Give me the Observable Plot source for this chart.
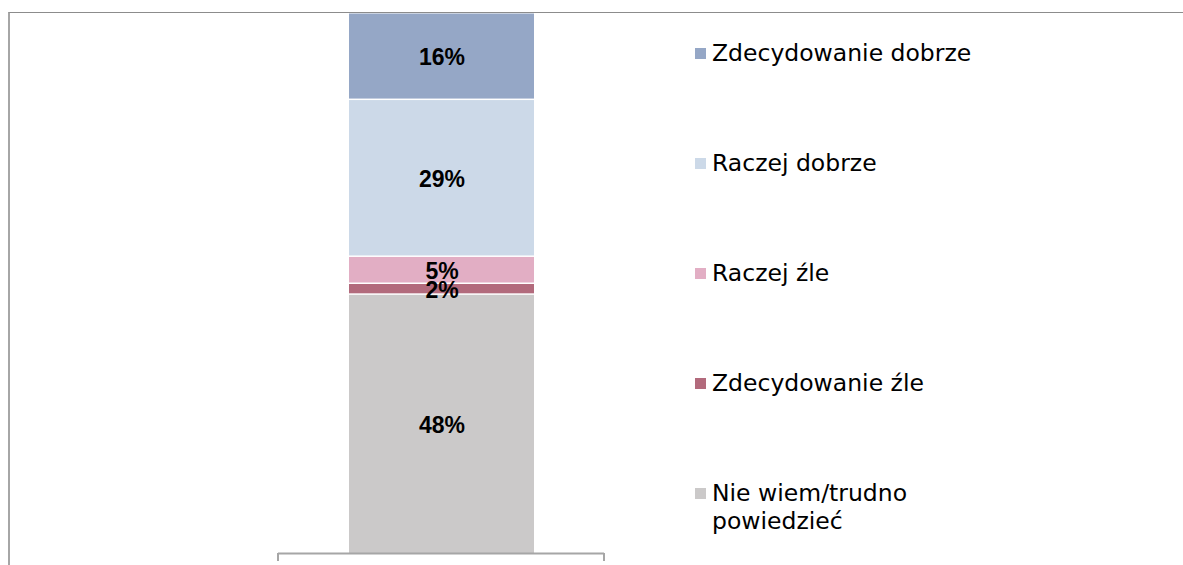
<!DOCTYPE html>
<html>
<head>
<meta charset="utf-8">
<script src="https://cdn.jsdelivr.net/npm/d3@7"></script>
<script src="https://cdn.jsdelivr.net/npm/@observablehq/plot@0.6"></script>
<style>
  html, body { margin: 0; padding: 0; background: #fff; overflow: hidden; }
  #wrap { position: relative; width: 1183px; height: 565px; }
  #border { position: absolute; left: 8px; top: 12px; width: 2000px; height: 2000px;
            border-top: 1px solid #8c8c8c; border-left: 2px solid #a6a6a6; pointer-events: none; }
  #legend { position: absolute; left: 695px; top: 39px; font-family: "DejaVu Sans", sans-serif;
            font-size: 23.5px; line-height: 28px; color: #000; }
  .item { display: flex; align-items: flex-start; height: 110px; }
  .sw { width: 11px; height: 11px; margin-top: 8.5px; margin-right: 6px; flex: none; }
  .lab { max-width: 280px; }
</style>
</head>
<body>
<div id="wrap"></div>
<script>
// Data (stacking order: bottom to top)
const category = [""];
const answers = ["Nie wiem/trudno powiedzieć", "Zdecydowanie źle", "Raczej źle", "Raczej dobrze", "Zdecydowanie dobrze"];
const values = [48, 2, 5, 29, 16];
const colors = ["#cbc9c9", "#b26a7c", "#e2aec4", "#ccd9e8", "#95a7c6"];

const data = answers.map((a, i) => ({cat: category[0], answer: a, value: values[i]}));

const endTicks = (index, scales, vals, dims) => {
  const g = d3.create("svg:g").attr("stroke", "#a6a6a6").attr("stroke-width", 2);
  const y0 = dims.height - dims.marginBottom;
  [dims.marginLeft, dims.width - dims.marginRight].forEach(x => {
    g.append("line").attr("x1", x).attr("x2", x).attr("y1", y0).attr("y2", y0 + 8);
  });
  return g.node();
};

const chart = Plot.plot({
  width: 1183,
  height: 565,
  marginTop: 12,
  marginBottom: 12,
  marginLeft: 278,
  marginRight: 579,
  x: {domain: category, padding: 0.276, axis: null},
  y: {domain: [0, 100], axis: null},
  color: {domain: answers, range: colors},
  style: {background: "transparent"},
  marks: [
    Plot.barY(data, {x: "cat", y: "value", fill: "answer", order: null, insetTop: 1.5}),
    Plot.text(data, Plot.stackY({x: "cat", y: "value", z: "answer", order: null,
      text: d => d.value + "%", fill: "#000", fontWeight: "bold", fontSize: 23,
      fontFamily: "Liberation Sans, Arial, sans-serif", dy: 2})),
    Plot.ruleY([0], {stroke: "#a6a6a6", strokeWidth: 2}),
    endTicks
  ]
});

const wrap = document.getElementById("wrap");
wrap.appendChild(chart);

const border = document.createElement("div");
border.id = "border";
wrap.appendChild(border);

const legend = document.createElement("div");
legend.id = "legend";
answers.map((a, i) => ({a, c: colors[i]})).reverse().forEach(({a, c}) => {
  const item = document.createElement("div");
  item.className = "item";
  const sw = document.createElement("div");
  sw.className = "sw";
  sw.style.background = c;
  const lab = document.createElement("div");
  lab.className = "lab";
  lab.textContent = a;
  item.appendChild(sw);
  item.appendChild(lab);
  legend.appendChild(item);
});
wrap.appendChild(legend);
</script>
</body>
</html>
